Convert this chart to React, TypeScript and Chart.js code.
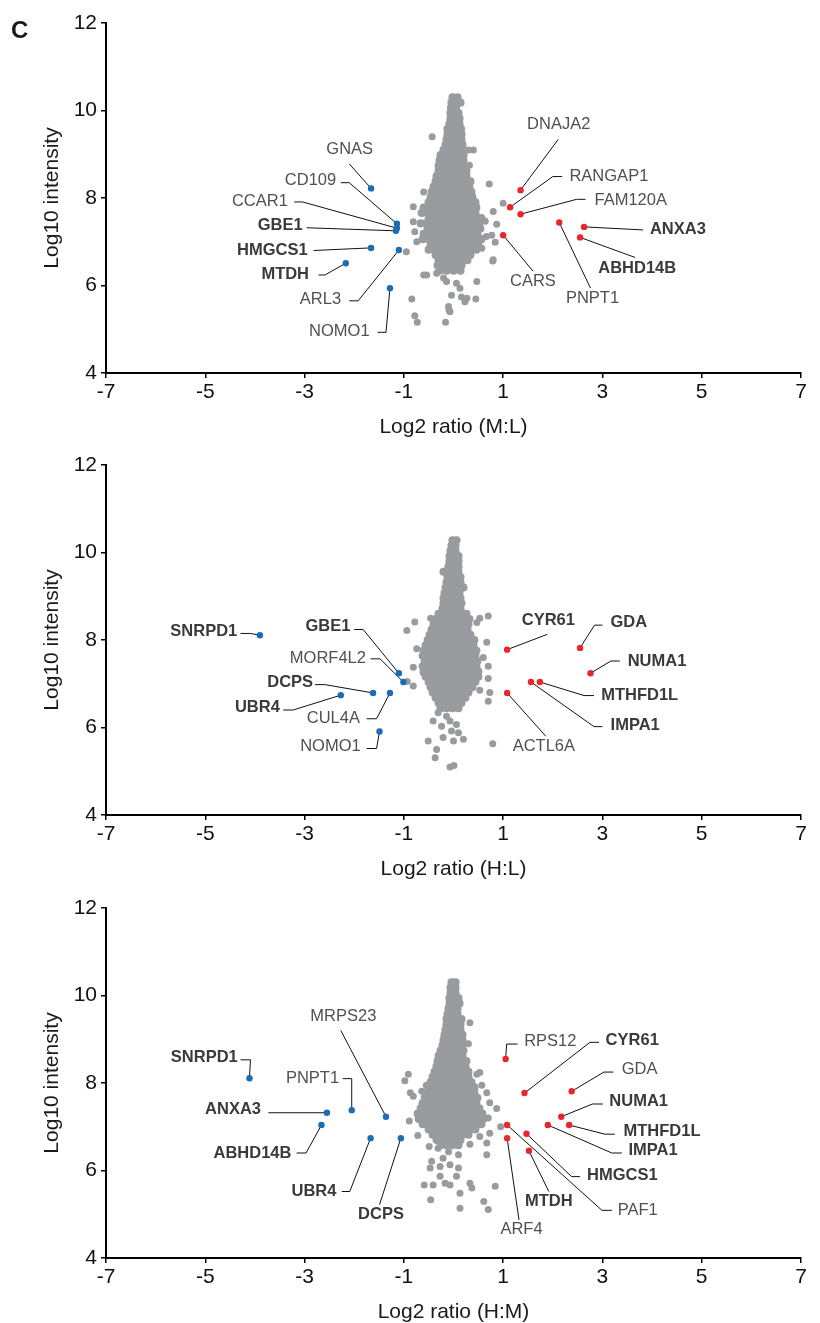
import { useEffect, useRef } from 'react';
import { Chart, registerables } from 'chart.js';

Chart.register(...registerables);

const FONT = '"Liberation Sans", Arial, Helvetica, sans-serif';

const X_TICKS = [-7, -5, -3, -1, 1, 3, 5, 7];
const Y_TICKS = [4, 6, 8, 10, 12];
const X_TITLES = ['Log2 ratio (M:L)', 'Log2 ratio (H:L)', 'Log2 ratio (H:M)'];
const Y_TITLE = 'Log10 intensity';
const PANEL_LETTER = 'C';

type Row = [number, number[]];
type Pt = [number, number];

// ---------- Panel 1 (M:L) background proteins ----------
const grayCore1: Row[] = [
  [10.3, [-0.02, 0.08]],
  [10.18, [-0.04, 0.06, 0.14]],
  [10.06, [-0.05, 0.05]],
  [9.94, [-0.06, 0.04, 0.1]],
  [9.82, [-0.06, 0.04, 0.12]],
  [9.7, [-0.08, 0.02, 0.12]],
  [9.58, [-0.12, -0.02, 0.08, 0.15]],
  [9.46, [-0.12, -0.02, 0.08, 0.16]],
  [9.34, [-0.14, -0.04, 0.06, 0.16]],
  [9.22, [-0.16, -0.04, 0.08, 0.18]],
  [9.1, [-0.2, -0.08, 0.04, 0.16]],
  [8.98, [-0.26, -0.14, -0.02, 0.1, 0.2]],
  [8.86, [-0.28, -0.16, -0.04, 0.08, 0.2]],
  [8.74, [-0.3, -0.18, -0.06, 0.06, 0.18]],
  [8.62, [-0.3, -0.18, -0.06, 0.06, 0.18, 0.26]],
  [8.5, [-0.34, -0.22, -0.1, 0.02, 0.14, 0.26]],
  [8.38, [-0.36, -0.24, -0.12, 0, 0.12, 0.24, 0.34]],
  [8.26, [-0.4, -0.28, -0.16, -0.04, 0.08, 0.2, 0.32]],
  [8.14, [-0.44, -0.32, -0.2, -0.08, 0.04, 0.16, 0.28, 0.36]],
  [8.02, [-0.46, -0.34, -0.22, -0.1, 0.02, 0.14, 0.26, 0.38]],
  [7.9, [-0.5, -0.38, -0.26, -0.14, -0.02, 0.1, 0.22, 0.34, 0.44]],
  [7.78, [-0.6, -0.48, -0.36, -0.24, -0.12, 0, 0.12, 0.24, 0.36, 0.46]],
  [7.66, [-0.64, -0.52, -0.4, -0.28, -0.16, -0.04, 0.08, 0.2, 0.32, 0.44]],
  [7.54, [-0.5, -0.38, -0.26, -0.14, -0.02, 0.1, 0.22, 0.34, 0.46, 0.56]],
  [7.42, [-0.66, -0.54, -0.42, -0.3, -0.18, -0.06, 0.06, 0.18, 0.3, 0.42, 0.52]],
  [7.3, [-0.52, -0.4, -0.28, -0.16, -0.04, 0.08, 0.2, 0.32, 0.44, 0.54]],
  [7.18, [-0.6, -0.48, -0.36, -0.24, -0.12, 0, 0.12, 0.24, 0.36, 0.48]],
  [7.06, [-0.62, -0.5, -0.38, -0.26, -0.14, -0.02, 0.1, 0.22, 0.34, 0.46, 0.56]],
  [6.94, [-0.46, -0.34, -0.22, -0.1, 0.02, 0.14, 0.26, 0.38, 0.5]],
  [6.82, [-0.5, -0.38, -0.26, -0.14, -0.02, 0.1, 0.22, 0.34, 0.46]],
  [6.7, [-0.36, -0.24, -0.12, 0, 0.12, 0.24, 0.34]],
  [6.58, [-0.3, -0.18, -0.06, 0.06, 0.18, 0.28]],
  [6.46, [-0.32, -0.2, -0.08, 0.04, 0.16]],
  [6.34, [-0.28, -0.14, 0.0, 0.14]],
];
const grayOut1: Pt[] = [
  [-0.43, 9.4], [0.3, 9.1], [0.4, 9.1], [0.32, 8.75], [0.72, 8.32], [-0.6, 8.14], [-0.81, 7.8],
  [1.0, 7.88], [0.8, 7.69], [0.87, 7.4], [0.77, 7.15], [0.84, 6.99], [0.66, 7.12], [0.8, 6.59],
  [0.64, 7.47], [0.57, 6.85], [0.79, 6.56], [-0.95, 6.77], [-0.81, 7.46], [-0.78, 7.23], [-0.74, 7.0],
  [-0.6, 6.24], [-0.54, 6.24], [-0.34, 6.28], [-0.2, 6.17], [-0.14, 6.09], [0.06, 6.05], [0.13, 5.94],
  [-0.04, 5.78], [0.16, 5.74], [0.27, 5.71], [0.47, 6.09], [0.45, 5.69], [-0.84, 5.69], [-0.1, 5.52],
  [-0.07, 5.4], [-0.78, 5.31], [-0.73, 5.16], [-0.16, 5.16], [0.23, 5.63], [-0.09, 5.44],
];

// ---------- Panel 2 (H:L) background proteins ----------
const grayCore2: Row[] = [
  [10.28, [-0.02, 0.06]],
  [10.16, [-0.04, 0.04]],
  [10.04, [-0.06, 0.04]],
  [9.92, [-0.08, 0.02, 0.1]],
  [9.8, [-0.08, 0.02, 0.1]],
  [9.68, [-0.1, 0.0, 0.1]],
  [9.56, [-0.2, -0.1, 0.0, 0.1]],
  [9.44, [-0.12, -0.02, 0.08, 0.14]],
  [9.32, [-0.14, -0.04, 0.06, 0.14]],
  [9.2, [-0.16, -0.06, 0.04, 0.14, 0.2]],
  [9.08, [-0.18, -0.08, 0.02, 0.12]],
  [8.96, [-0.2, -0.08, 0.04, 0.14]],
  [8.84, [-0.2, -0.08, 0.04, 0.16]],
  [8.72, [-0.22, -0.1, 0.02, 0.14]],
  [8.6, [-0.3, -0.18, -0.06, 0.06, 0.18, 0.26]],
  [8.48, [-0.36, -0.24, -0.12, 0.0, 0.12, 0.24, 0.32]],
  [8.36, [-0.4, -0.28, -0.16, -0.04, 0.08, 0.2, 0.3]],
  [8.24, [-0.44, -0.32, -0.2, -0.08, 0.04, 0.16, 0.28]],
  [8.12, [-0.48, -0.36, -0.24, -0.12, 0.0, 0.12, 0.24, 0.34]],
  [8.0, [-0.52, -0.4, -0.28, -0.16, -0.04, 0.08, 0.2, 0.32, 0.42]],
  [7.88, [-0.56, -0.44, -0.32, -0.2, -0.08, 0.04, 0.16, 0.28, 0.4]],
  [7.76, [-0.6, -0.48, -0.36, -0.24, -0.12, 0.0, 0.12, 0.24, 0.36, 0.46]],
  [7.64, [-0.62, -0.5, -0.38, -0.26, -0.14, -0.02, 0.1, 0.22, 0.34, 0.44]],
  [7.52, [-0.58, -0.46, -0.34, -0.22, -0.1, 0.02, 0.14, 0.26, 0.38, 0.48]],
  [7.4, [-0.62, -0.5, -0.38, -0.26, -0.14, -0.02, 0.1, 0.22, 0.34, 0.46]],
  [7.28, [-0.6, -0.48, -0.36, -0.24, -0.12, 0.0, 0.12, 0.24, 0.36, 0.5]],
  [7.16, [-0.56, -0.44, -0.32, -0.2, -0.08, 0.04, 0.16, 0.28, 0.4, 0.5]],
  [7.04, [-0.5, -0.38, -0.26, -0.14, -0.02, 0.1, 0.22, 0.34, 0.44]],
  [6.92, [-0.46, -0.34, -0.22, -0.1, 0.02, 0.14, 0.26, 0.38]],
  [6.8, [-0.42, -0.3, -0.18, -0.06, 0.06, 0.18, 0.3]],
  [6.68, [-0.36, -0.24, -0.12, 0.0, 0.12, 0.24]],
  [6.56, [-0.3, -0.18, -0.06, 0.06, 0.16]],
  [6.44, [-0.26, -0.14, -0.02, 0.1]],
];
const grayOut2: Pt[] = [
  [0.53, 8.5], [0.7, 8.55], [0.47, 8.4], [-0.46, 8.5], [-0.78, 8.41], [-0.94, 8.22], [-0.74, 7.8],
  [-0.81, 7.38], [-0.61, 7.25], [-0.93, 7.05], [-0.81, 6.95], [0.67, 7.95], [0.6, 7.6], [0.7, 7.4],
  [0.7, 7.12], [0.73, 6.8], [0.7, 6.6], [0.53, 6.85], [-0.31, 6.34], [-0.14, 6.26], [-0.07, 6.15],
  [0.06, 6.07], [-0.41, 6.15], [-0.24, 6.03], [-0.04, 5.92], [0.1, 5.88], [-0.21, 5.77], [0.0, 5.69],
  [0.2, 5.73], [-0.51, 5.69], [-0.34, 5.5], [-0.37, 5.31], [-0.07, 5.1], [0.01, 5.13], [0.79, 5.63],
];

// ---------- Panel 3 (H:M) background proteins ----------
const grayCore3: Row[] = [
  [10.3, [-0.04, 0.04]],
  [10.18, [-0.06, 0.04]],
  [10.06, [-0.06, 0.04]],
  [9.94, [-0.08, 0.02, 0.1]],
  [9.82, [-0.08, 0.02, 0.12]],
  [9.7, [-0.1, 0.0, 0.08]],
  [9.58, [-0.12, -0.02, 0.08]],
  [9.46, [-0.14, -0.04, 0.06, 0.16]],
  [9.34, [-0.14, -0.04, 0.06, 0.14]],
  [9.22, [-0.16, -0.06, 0.04, 0.14]],
  [9.1, [-0.18, -0.08, 0.02, 0.12, 0.18]],
  [8.98, [-0.2, -0.1, 0.0, 0.1, 0.18]],
  [8.86, [-0.22, -0.12, -0.02, 0.08, 0.18]],
  [8.74, [-0.26, -0.14, -0.02, 0.1, 0.2]],
  [8.62, [-0.3, -0.18, -0.06, 0.06, 0.18]],
  [8.5, [-0.32, -0.2, -0.08, 0.04, 0.16, 0.26]],
  [8.38, [-0.34, -0.22, -0.1, 0.02, 0.14, 0.24]],
  [8.26, [-0.38, -0.26, -0.14, -0.02, 0.1, 0.22, 0.3]],
  [8.14, [-0.42, -0.3, -0.18, -0.06, 0.06, 0.18, 0.3]],
  [8.02, [-0.46, -0.34, -0.22, -0.1, 0.02, 0.14, 0.26, 0.36]],
  [7.9, [-0.5, -0.38, -0.26, -0.14, -0.02, 0.1, 0.22, 0.34, 0.42]],
  [7.78, [-0.54, -0.42, -0.3, -0.18, -0.06, 0.06, 0.18, 0.3, 0.42]],
  [7.66, [-0.58, -0.46, -0.34, -0.22, -0.1, 0.02, 0.14, 0.26, 0.38, 0.48]],
  [7.54, [-0.62, -0.5, -0.38, -0.26, -0.14, -0.02, 0.1, 0.22, 0.34, 0.46]],
  [7.42, [-0.66, -0.54, -0.42, -0.3, -0.18, -0.06, 0.06, 0.18, 0.3, 0.42, 0.52]],
  [7.3, [-0.72, -0.6, -0.48, -0.36, -0.24, -0.12, 0.0, 0.12, 0.24, 0.36, 0.48, 0.58]],
  [7.18, [-0.7, -0.58, -0.46, -0.34, -0.22, -0.1, 0.02, 0.14, 0.26, 0.38, 0.5, 0.6]],
  [7.06, [-0.62, -0.5, -0.38, -0.26, -0.14, -0.02, 0.1, 0.22, 0.34, 0.46, 0.56]],
  [6.94, [-0.5, -0.38, -0.26, -0.14, -0.02, 0.1, 0.22, 0.34, 0.44]],
  [6.82, [-0.42, -0.3, -0.18, -0.06, 0.06, 0.18, 0.3]],
  [6.7, [-0.34, -0.22, -0.1, 0.02, 0.14]],
  [6.58, [-0.26, -0.14, -0.02, 0.1]],
];
const grayOut3: Pt[] = [
  [0.33, 9.38], [0.3, 8.9], [0.47, 8.2], [0.53, 8.24], [0.57, 7.95], [-0.55, 7.95], [-0.91, 8.2],
  [-0.98, 8.05], [-0.87, 7.78], [-0.81, 7.7], [-0.64, 7.81], [0.67, 7.78], [0.73, 7.55], [0.87, 7.42],
  [0.7, 7.2], [-0.89, 7.13], [0.95, 7.0], [0.73, 6.85], [0.67, 6.63], [0.53, 6.78], [0.33, 6.6],
  [0.67, 6.36], [-0.72, 6.8], [-0.49, 6.55], [-0.31, 6.51], [-0.1, 6.43], [0.1, 6.36], [-0.21, 6.28],
  [-0.44, 6.21], [-0.47, 6.06], [-0.27, 6.09], [-0.07, 6.13], [0.1, 6.06], [0.06, 5.87], [-0.27, 5.87],
  [0.33, 5.71], [0.37, 5.6], [-0.41, 5.67], [-0.59, 5.67], [-0.07, 5.67], [-0.17, 5.71], [0.13, 5.48],
  [-0.46, 5.33], [0.13, 5.14], [0.61, 5.29], [0.84, 5.64], [0.7, 5.11],
];

// ---------- Highlighted proteins ----------
// Panel 1
const hitNames1 = ['GNAS', 'CD109', 'CCAR1', 'GBE1', 'HMGCS1', 'MTDH', 'ARL3', 'NOMO1',
  'DNAJA2', 'RANGAP1', 'FAM120A', 'CARS', 'PNPT1', 'ANXA3', 'ABHD14B'];
const hitX1 = [-1.66, -1.14, -1.14, -1.16, -1.66, -2.17, -1.1, -1.28, 1.35, 1.14, 1.35, 1.0, 2.13, 2.63, 2.55];
const hitY1 = [8.22, 7.41, 7.31, 7.25, 6.86, 6.51, 6.81, 5.94, 8.18, 7.79, 7.63, 7.15, 7.44, 7.34, 7.1];
const hitUp1 = [false, false, false, false, false, false, false, false, true, true, true, true, true, true, true];
const hitBold1 = [false, false, false, true, true, true, false, false, false, false, false, false, false, true, true];
const labelPos1: Pt[] = [[-2.09, 9.1], [-2.88, 8.41], [-3.9, 7.91], [-3.49, 7.38], [-3.65, 6.79], [-3.39, 6.26],
  [-2.68, 5.67], [-2.3, 4.96], [2.12, 9.67], [3.13, 8.49], [3.57, 7.95], [1.6, 6.1], [2.8, 5.71], [4.52, 7.29], [3.7, 6.39]];
const leader1: Pt[][] = [
  [[-2.1, 8.78]], [[-2.27, 8.35], [-2.1, 8.35]], [[-3.21, 7.91], [-3.04, 7.91]], [[-2.96, 7.32]],
  [[-2.82, 6.8]], [[-2.72, 6.24], [-2.59, 6.24]], [[-2.1, 5.65], [-1.92, 5.65]], [[-1.53, 4.93], [-1.36, 4.93]],
  [[2.11, 9.34]], [[2.19, 8.49], [2.0, 8.49]], [[2.66, 7.97], [2.48, 7.97]], [[1.6, 6.33]], [[2.76, 5.94]],
  [[3.82, 7.27]], [[3.66, 6.64]],
];

// Panel 2
const hitNames2 = ['SNRPD1', 'GBE1', 'MORF4L2', 'DCPS', 'UBR4', 'CUL4A', 'NOMO1',
  'CYR61', 'GDA', 'NUMA1', 'MTHFD1L', 'IMPA1', 'ACTL6A'];
const hitX2 = [-3.9, -1.1, -1.01, -1.62, -2.27, -1.28, -1.49, 1.08, 2.55, 2.76, 1.74, 1.56, 1.08];
const hitY2 = [8.11, 7.24, 7.04, 6.79, 6.74, 6.79, 5.91, 7.78, 7.82, 7.24, 7.04, 7.04, 6.79];
const hitUp2 = [false, false, false, false, false, false, false, true, true, true, true, true, true];
const hitBold2 = [true, true, false, true, true, false, false, true, true, true, true, true, false];
const labelPos2: Pt[] = [[-5.03, 8.19], [-2.53, 8.3], [-2.53, 7.58], [-3.29, 7.02], [-3.95, 6.45], [-2.42, 6.2],
  [-2.48, 5.56], [1.91, 8.45], [3.53, 8.41], [4.1, 7.52], [3.75, 6.73], [3.66, 6.05], [1.82, 5.56]];
const leader2: Pt[][] = [
  [[-4.29, 8.15], [-4.09, 8.15]], [[-2.0, 8.24], [-1.82, 8.24]], [[-1.67, 7.57], [-1.48, 7.57]],
  [[-2.79, 6.98], [-2.59, 6.98]], [[-3.43, 6.4], [-3.23, 6.4]], [[-1.75, 6.2], [-1.55, 6.2]],
  [[-1.75, 5.52], [-1.55, 5.52]], [[1.89, 8.13]], [[3.0, 8.34], [2.84, 8.34]], [[3.35, 7.52], [3.17, 7.52]],
  [[2.83, 6.73], [2.63, 6.73]], [[3.0, 6.02], [2.83, 6.02]], [[1.86, 5.8]],
];

// Panel 3
const hitNames3 = ['SNRPD1', 'ANXA3', 'PNPT1', 'MRPS23', 'ABHD14B', 'UBR4', 'DCPS',
  'RPS12', 'CYR61', 'GDA', 'NUMA1', 'MTHFD1L', 'IMPA1', 'HMGCS1', 'PAF1', 'MTDH', 'ARF4'];
const hitX3 = [-4.11, -2.55, -2.05, -1.36, -2.66, -1.67, -1.06, 1.05, 1.43, 2.38, 2.17, 2.33, 1.9, 1.47, 1.08, 1.52, 1.08];
const hitY3 = [8.11, 7.32, 7.38, 7.23, 7.04, 6.74, 6.74, 8.55, 7.77, 7.81, 7.23, 7.04, 7.04, 6.84, 7.04, 6.45, 6.74];
const hitUp3 = [false, false, false, false, false, false, false, true, true, true, true, true, true, true, true, true, true];
const hitBold3 = [true, true, false, false, true, true, true, false, true, false, true, true, true, true, false, true, false];
const labelPos3: Pt[] = [[-5.02, 8.59], [-4.44, 7.39], [-2.84, 8.11], [-2.22, 9.53], [-4.05, 6.4], [-2.81, 5.52],
  [-1.46, 4.99], [1.95, 8.95], [3.6, 8.98], [3.75, 8.3], [3.73, 7.58], [4.2, 6.89], [4.02, 6.45], [3.4, 5.89],
  [3.71, 5.09], [1.92, 5.29], [1.37, 4.66]];
const leader3: Pt[][] = [
  [[-4.29, 8.53], [-4.09, 8.53]], [[-3.73, 7.32]], [[-2.23, 8.1], [-2.05, 8.1]], [[-2.27, 9.2]],
  [[-3.16, 6.4], [-2.97, 6.4]], [[-2.25, 5.52], [-2.09, 5.52]], [[-1.49, 5.22]],
  [[1.29, 8.89], [1.07, 8.89]], [[2.93, 8.93], [2.75, 8.93]], [[3.22, 8.25], [3.03, 8.25]],
  [[3.01, 7.52], [2.8, 7.52]], [[3.25, 6.83], [3.05, 6.83]], [[3.39, 6.4], [3.19, 6.4]],
  [[2.55, 5.86], [2.38, 5.86]], [[3.19, 5.09], [2.99, 5.09]], [[1.92, 5.52]], [[1.32, 4.87]],
];

const GRAY = '#999b9e';
const BLUE = '#1a6db5';
const RED = '#e8262b';

interface PanelDef {
  core: Row[];
  out: Pt[];
  names: string[];
  xs: number[];
  ys: number[];
  up: boolean[];
  bold: boolean[];
  labels: Pt[];
  leaders: Pt[][];
  xTitle: string;
  letter?: string;
}

const PANELS: PanelDef[] = [
  { core: grayCore1, out: grayOut1, names: hitNames1, xs: hitX1, ys: hitY1, up: hitUp1, bold: hitBold1, labels: labelPos1, leaders: leader1, xTitle: X_TITLES[0], letter: PANEL_LETTER },
  { core: grayCore2, out: grayOut2, names: hitNames2, xs: hitX2, ys: hitY2, up: hitUp2, bold: hitBold2, labels: labelPos2, leaders: leader2, xTitle: X_TITLES[1] },
  { core: grayCore3, out: grayOut3, names: hitNames3, xs: hitX3, ys: hitY3, up: hitUp3, bold: hitBold3, labels: labelPos3, leaders: leader3, xTitle: X_TITLES[2] },
];

const CANVAS_W = 820;
const CANVAS_H = 442;
const TOPS = [0, 442, 885];

function pointSet(data: { x: number; y: number }[], color: string, r: number) {
  return {
    data,
    backgroundColor: color,
    borderColor: color,
    pointBackgroundColor: color,
    pointBorderColor: color,
    pointBorderWidth: 0,
    borderWidth: 0,
    pointRadius: r,
    pointHoverRadius: r,
    pointHoverBorderWidth: 0,
    showLine: false,
  };
}

function Panel({ def, top }: { def: PanelDef; top: number }) {
  const ref = useRef<HTMLCanvasElement | null>(null);
  useEffect(() => {
    const canvas = ref.current;
    if (!canvas) return;
    const grayCore = def.core.flatMap(([y, xs]) => xs.map((x) => ({ x, y })));
    const grayOut = def.out.map(([x, y]) => ({ x, y }));
    const idx = def.names.map((_, i) => i);
    const blue = idx.filter((i) => !def.up[i]).map((i) => ({ x: def.xs[i], y: def.ys[i] }));
    const red = idx.filter((i) => def.up[i]).map((i) => ({ x: def.xs[i], y: def.ys[i] }));

    const annot = {
      id: 'annot',
      beforeDatasetsDraw(chart: any) {
        const { ctx, scales } = chart;
        const sx = scales.x;
        const sy = scales.y;
        ctx.save();
        ctx.strokeStyle = '#111';
        ctx.lineWidth = 1;
        def.names.forEach((name, i) => {
          const pts = [...def.leaders[i], [def.xs[i], def.ys[i]] as Pt];
          ctx.beginPath();
          pts.forEach(([x, y], k) => {
            const px = sx.getPixelForValue(x);
            const py = sy.getPixelForValue(y);
            if (k === 0) ctx.moveTo(px, py);
            else ctx.lineTo(px, py);
          });
          ctx.stroke();
          ctx.font = `${def.bold[i] ? 'bold ' : ''}16.5px ${FONT}`;
          ctx.fillStyle = def.bold[i] ? '#3a3a3a' : '#505050';
          ctx.textAlign = 'center';
          ctx.textBaseline = 'middle';
          ctx.fillText(name, sx.getPixelForValue(def.labels[i][0]), sy.getPixelForValue(def.labels[i][1]));
        });
        ctx.restore();
      },
      afterDraw(chart: any) {
        const { ctx, chartArea } = chart;
        ctx.save();
        ctx.fillStyle = '#1a1a1a';
        ctx.font = `21px ${FONT}`;
        ctx.textAlign = 'center';
        ctx.textBaseline = 'alphabetic';
        ctx.fillText(def.xTitle, (chartArea.left + chartArea.right) / 2, chartArea.bottom + 59.5);
        ctx.translate(58, (chartArea.top + chartArea.bottom) / 2);
        ctx.rotate(-Math.PI / 2);
        ctx.fillText(Y_TITLE, 0, 0);
        ctx.restore();
        if (def.letter) {
          ctx.save();
          ctx.fillStyle = '#1a1a1a';
          ctx.font = `bold 24px ${FONT}`;
          ctx.textAlign = 'left';
          ctx.textBaseline = 'alphabetic';
          ctx.fillText(def.letter, 11, 38);
          ctx.restore();
        }
      },
    };

    const tickFont = { family: FONT, size: 21 };
    const chart = new Chart(canvas, {
      type: 'scatter',
      data: {
        datasets: [
          pointSet(red, RED, 3.2),
          pointSet(blue, BLUE, 3.2),
          pointSet(grayCore, GRAY, 4.1),
          pointSet(grayOut, GRAY, 3.5),
        ],
      },
      options: {
        animation: false,
        responsive: false,
        devicePixelRatio: 1,
        events: [],
        layout: { padding: { top: 23, right: 19, left: 0, bottom: 0 } },
        plugins: { legend: { display: false }, tooltip: { enabled: false } },
        scales: {
          x: {
            type: 'linear',
            min: -7,
            max: 7,
            afterBuildTicks: (s: any) => { s.ticks = X_TICKS.map((v) => ({ value: v })); },
            afterFit: (s: any) => { s.height = CANVAS_H - 373; },
            grid: { display: true, drawOnChartArea: false, drawTicks: true, tickLength: 5, color: '#000', lineWidth: 1.5 },
            border: { display: true, color: '#000', width: 2 },
            ticks: { font: tickFont, color: '#111', padding: 2, maxRotation: 0, autoSkip: false },
          },
          y: {
            type: 'linear',
            min: 4,
            max: 12,
            afterBuildTicks: (s: any) => { s.ticks = Y_TICKS.map((v) => ({ value: v })); },
            afterFit: (s: any) => { s.width = 106; },
            grid: { display: true, drawOnChartArea: false, drawTicks: true, tickLength: 5, color: '#000', lineWidth: 1.5 },
            border: { display: true, color: '#000', width: 2 },
            ticks: { font: tickFont, color: '#111', padding: 4, autoSkip: false },
          },
        },
      },
      plugins: [annot],
    } as any);
    return () => chart.destroy();
  }, [def]);
  return (
    <canvas
      ref={ref}
      width={CANVAS_W}
      height={CANVAS_H}
      style={{ position: 'absolute', left: 0, top, width: CANVAS_W, height: CANVAS_H, display: 'block' }}
    />
  );
}

export default function App() {
  return (
    <div style={{ position: 'absolute', left: 0, top: 0, width: 820, height: 1323, background: '#fff', overflow: 'hidden' }}>
      {PANELS.map((p, i) => (
        <Panel key={i} def={p} top={TOPS[i]} />
      ))}
    </div>
  );
}
